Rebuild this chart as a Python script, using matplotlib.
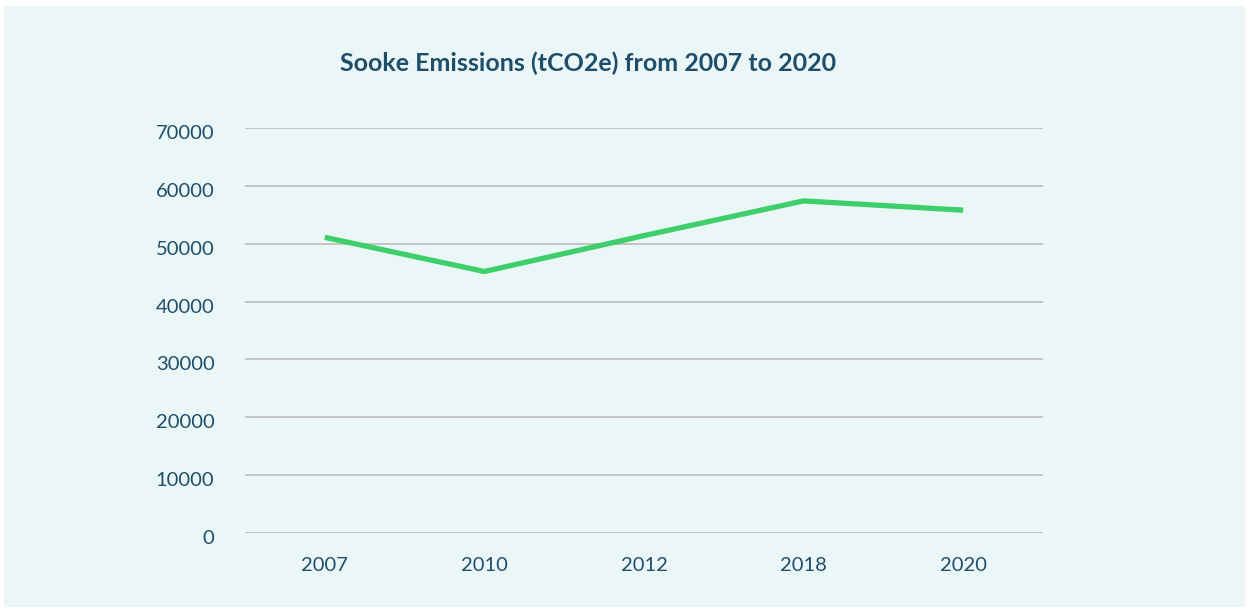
import matplotlib
matplotlib.use("Agg")
import matplotlib.pyplot as plt
from matplotlib.patches import Rectangle
from matplotlib.transforms import ScaledTranslation

years = ["2007", "2010", "2012", "2018", "2020"]
emissions = [51100, 45200, 51400, 57400, 55800]
yticks = [0, 10000, 20000, 30000, 40000, 50000, 60000, 70000]

text_color = "#1F4E6B"
bg = "#EBF7F7"
plt.rcParams['font.family'] = ['Lato', 'DejaVu Sans']

fig = plt.figure(figsize=(12.49, 6.10), dpi=100)
fig.patch.set_facecolor("white")
fig.patches.append(Rectangle((4/1249, 3/610), 1241/1249, 601/610, transform=fig.transFigure,
                             facecolor=bg, edgecolor="none", zorder=-10))

ax = fig.add_axes([245/1249, 1-533/610, (1043-245)/1249, (533-128)/610])
ax.set_facecolor("none")
x = list(range(len(years)))
ax.plot(x, emissions, color="#3CCF6A", linewidth=3.8, solid_capstyle="butt", solid_joinstyle="miter", zorder=3)

ax.set_xlim(-0.5, len(years) - 0.5)
ax.set_ylim(0, 70000)
ax.set_yticks(yticks)
ax.set_yticklabels([str(v) for v in yticks])
ax.set_xticks(x)
ax.set_xticklabels(years)
ax.yaxis.grid(True, color="#BFBFBF", linewidth=1.3)
ax.set_axisbelow(True)
for s in ax.spines.values():
    s.set_visible(False)
ax.tick_params(axis="both", length=0, labelsize=14.5, labelcolor=text_color)
ax.tick_params(axis="y", pad=22)
ax.tick_params(axis="x", pad=17)

shift = ScaledTranslation(0, -4/100, fig.dpi_scale_trans)
for lbl in ax.get_yticklabels():
    lbl.set_transform(lbl.get_transform() + shift)

fig.text(588/1249, 1-63/610, "Sooke Emissions (tCO2e) from 2007 to 2020", ha="center", va="center",
         fontsize=18, fontweight="bold", color=text_color)

fig.savefig("out.png", dpi=100, facecolor=fig.get_facecolor())
